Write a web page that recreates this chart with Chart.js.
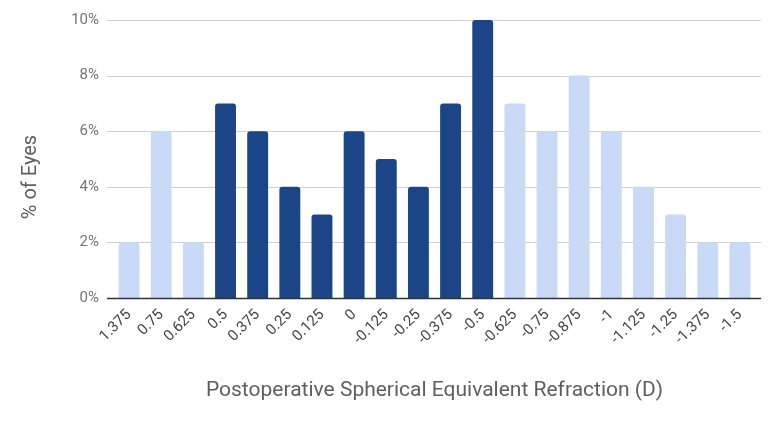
<!DOCTYPE html>
<html>
<head>
<meta charset="utf-8">
<script src="https://cdn.jsdelivr.net/npm/chart.js@4/dist/chart.umd.min.js"></script>
<style>
  html, body { margin: 0; padding: 0; background: #ffffff; }
  #wrap { width: 784px; height: 424px; position: relative; }
</style>
</head>
<body>
<div id="wrap"><canvas id="c" width="784" height="424"></canvas></div>
<script>
const categories = ['1.375','0.75','0.625','0.5','0.375','0.25','0.125','0','-0.125','-0.25','-0.375','-0.5','-0.625','-0.75','-0.875','-1','-1.125','-1.25','-1.375','-1.5'];
const percentEyes = [2, 6, 2, 7, 6, 4, 3, 6, 5, 4, 7, 10, 7, 6, 8, 6, 4, 3, 2, 2];
const yTicks = [0, 2, 4, 6, 8, 10];
const xTitle = 'Postoperative Spherical Equivalent Refraction (D)';
const yTitle = '% of Eyes';

const LIGHT = '#c9daf8';
const DARK = '#1c4587';
const barColors = categories.map(c => Math.abs(parseFloat(c)) <= 0.5 ? DARK : LIGHT);

const gridPlugin = {
  id: 'extGrid',
  beforeDatasetsDraw(chart) {
    const { ctx, chartArea, scales } = chart;
    const y = scales.y;
    ctx.save();
    ctx.strokeStyle = '#d0d0d0';
    ctx.lineWidth = 1;
    yTicks.forEach(v => {
      if (v === 0) return;
      const py = Math.round(y.getPixelForValue(v)) + 0.5;
      ctx.beginPath();
      ctx.moveTo(chartArea.left - 6, py);
      ctx.lineTo(chartArea.right + 5, py);
      ctx.stroke();
    });
    ctx.restore();
  },
  afterDatasetsDraw(chart) {
    const { ctx, chartArea, scales } = chart;
    const y = scales.y;
    ctx.save();
    ctx.strokeStyle = '#333333';
    ctx.lineWidth = 1.3;
    const py = Math.round(y.getPixelForValue(0)) + 0.5;
    ctx.beginPath();
    ctx.moveTo(chartArea.left - 6, py);
    ctx.lineTo(chartArea.right + 5, py);
    ctx.stroke();
    // y-axis title
    ctx.fillStyle = '#5f5f5f';
    ctx.font = '20px Roboto';
    ctx.textAlign = 'center';
    ctx.textBaseline = 'middle';
    ctx.translate(31, 177);
    ctx.rotate(-Math.PI / 2);
    ctx.fillText(yTitle, 0, 0);
    ctx.restore();
  }
};

new Chart(document.getElementById('c'), {
  type: 'bar',
  data: {
    labels: categories,
    datasets: [{
      data: percentEyes,
      backgroundColor: barColors,
      borderRadius: 3,
      barPercentage: 0.65,
      categoryPercentage: 1.0
    }]
  },
  options: {
    responsive: false,
    animation: false,
    layout: { padding: { top: 20, right: 28, left: 0, bottom: 0 } },
    plugins: { legend: { display: false }, tooltip: { enabled: false } },
    scales: {
      x: {
        grid: { display: false, drawTicks: false },
        border: { display: false },
        ticks: {
          color: '#444444',
          font: { family: 'Roboto', size: 15 },
          minRotation: 45,
          maxRotation: 45,
          padding: 8,
          autoSkip: false
        },
        title: {
          display: true,
          text: xTitle,
          color: '#5f5f5f',
          font: { family: 'Roboto', size: 21 },
          padding: { top: 0, bottom: 21 }
        },
        afterFit(scale) { scale.height = 126; }
      },
      y: {
        min: 0,
        max: 10,
        grid: { display: false, drawTicks: false },
        border: { display: false },
        ticks: {
          stepSize: 2,
          color: '#757575',
          font: { family: 'Roboto', size: 15 },
          padding: 14,
          callback: v => v + '%'
        },
        afterFit(scale) {
          scale.width = 113;
          scale.paddingTop = 0;
          scale.paddingBottom = 0;
        }
      }
    }
  },
  plugins: [gridPlugin]
});
</script>
</body>
</html>
